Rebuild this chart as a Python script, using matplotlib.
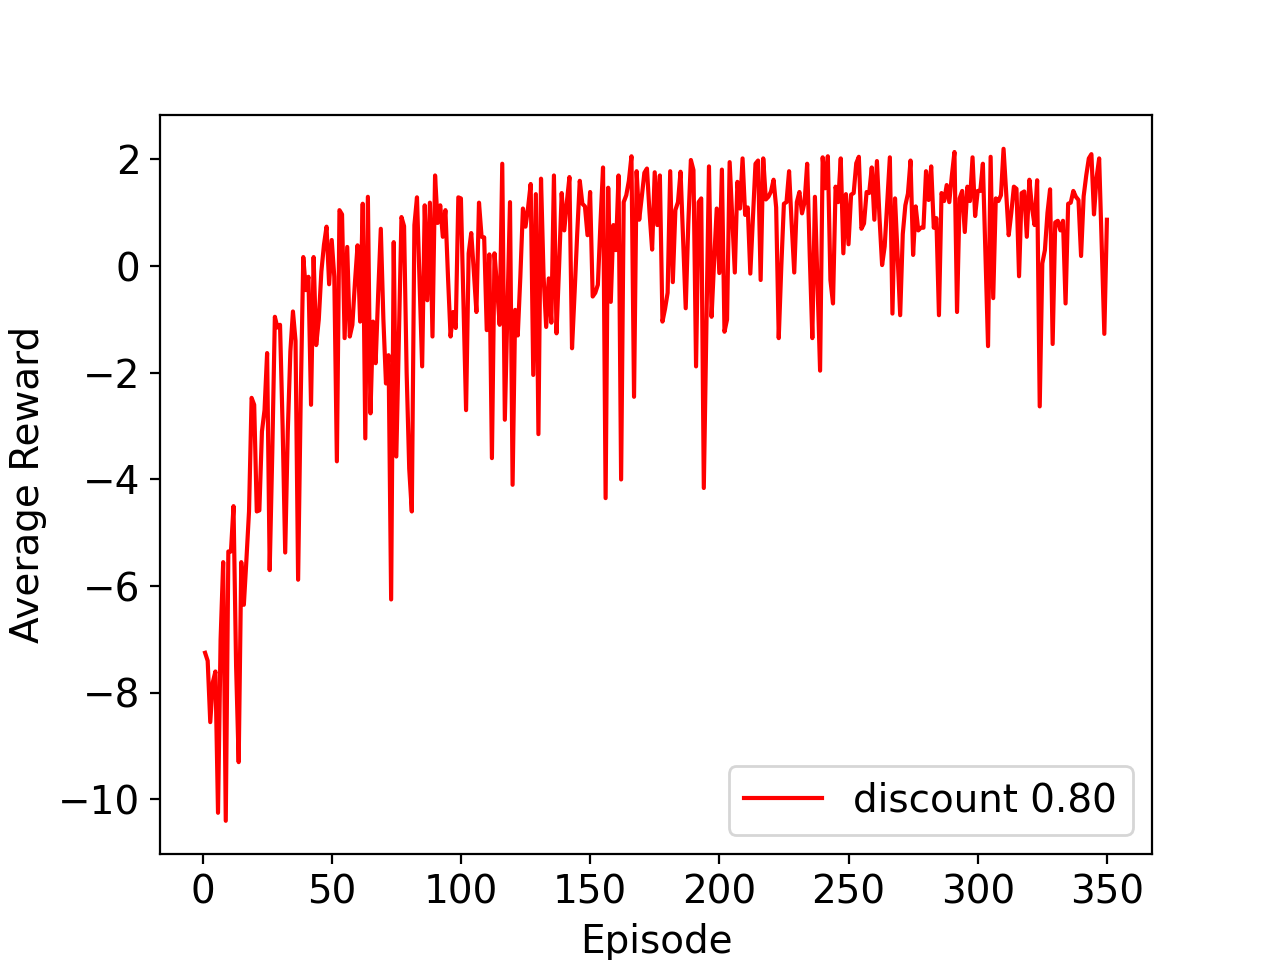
import matplotlib
matplotlib.use("Agg")
import matplotlib.pyplot as plt

plt.rcParams['font.size'] = 14

rewards = [
    -7.25, -7.4, -8.55, -7.8, -7.6, -10.25, -7.0, -5.55, -10.4,
    -5.35, -5.35, -4.5, -7.5, -9.3, -5.55, -6.35, -5.5, -4.6, -2.47,
    -2.6, -4.6, -4.58, -3.1, -2.7, -1.63, -5.7, -3.5, -0.95, -1.15,
    -1.1, -3.0, -5.37, -3.1, -1.6, -0.85, -1.4, -5.88, -2.5, 0.17,
    -0.45, -0.2, -2.6, 0.17, -1.48, -1.0, -0.1, 0.4, 0.74, -0.34,
    0.49, -0.2, -3.66, 1.05, 0.97, -1.35, 0.36, -1.32, -1.1, -0.3,
    0.39, -1.04, 1.17, -3.23, 1.3, -2.76, -1.04, -1.82, -0.5, 0.7,
    -1.0, -2.2, -1.67, -6.25, 0.45, -3.57, -1.3, 0.92, 0.75, -2.0,
    -3.8, -4.6, 0.77, 1.29, -0.3, -1.88, 1.14, -0.64, 1.19, -1.32,
    1.70, 0.81, 1.14, 0.55, 1.05, -0.2, -1.32, -0.86, -1.16, 1.29,
    1.27, -0.7, -2.7, 0.24, 0.62, -0.1, -0.86, 1.19, 0.55, 0.54,
    -1.2, 0.22, -3.6, 0.24, -0.4, -1.1, 1.92, -2.88, -0.8, 1.2,
    -4.1, -0.82, -1.3, -0.2, 1.08, 0.74, 1.1, 1.54, -2.04, 1.35,
    -3.15, 1.64, -0.2, -1.14, -0.23, -1.06, 1.7, -1.26, 0.0, 1.37,
    0.67, 1.2, 1.67, -1.54, -0.5, 0.6, 1.6, 1.17, 1.12, 0.58,
    1.39, -0.57, -0.5, -0.35, 0.8, 1.85, -4.35, 1.47, -0.67, 0.77,
    0.3, 1.7, -4.0, 1.2, 1.33, 1.6, 2.06, -2.45, 1.78, 0.87,
    1.3, 1.75, 1.83, 1.0, 0.31, 1.76, 0.77, 1.7, -1.04, -0.8,
    -0.5, 1.78, -0.3, 1.05, 1.2, 1.77, 0.5, -0.79, 0.8, 1.99,
    1.8, -1.88, 1.2, 1.27, -4.16, -1.2, 1.87, -0.95, 0.1, 1.08,
    -0.13, 1.81, -1.23, -1.0, 1.95, 0.9, -0.12, 1.58, 1.08, 2.02,
    0.96, 1.1, -0.14, 0.9, 1.92, 1.98, -0.26, 2.02, 1.25, 1.3,
    1.4, 1.62, 1.1, -1.35, 0.0, 1.17, 1.2, 1.78, 0.8, -0.12,
    1.2, 1.39, 0.99, 1.2, 1.92, 0.2, -1.35, 1.3, -0.3, -1.96,
    2.04, 1.46, 2.06, -0.26, -0.7, 1.49, 1.2, 2.02, 0.24, 1.35,
    0.41, 1.34, 1.37, 1.93, 2.05, 0.7, 0.8, 1.39, 1.37, 1.85,
    0.87, 1.97, 0.9, 0.02, 0.37, 1.2, 2.04, -0.89, 1.27, 0.2,
    -0.92, 0.6, 1.14, 1.36, 1.98, 0.21, 1.12, 0.67, 0.72, 0.72,
    1.78, 1.24, 1.87, 0.72, 0.9, -0.92, 1.37, 1.22, 1.52, 1.2,
    1.7, 2.14, -0.86, 1.27, 1.41, 0.64, 1.49, 1.22, 2.04, 0.94,
    1.41, 1.41, 1.92, 0.2, -1.5, 2.05, -0.6, 1.27, 1.22, 1.33,
    2.2, 1.4, 0.58, 1.0, 1.49, 1.45, -0.19, 1.37, 1.4, 0.55,
    1.62, 1.1, 0.77, 1.61, -2.63, 0.05, 0.3, 1.0, 1.44, -1.46,
    0.82, 0.85, 0.67, 0.85, -0.7, 1.17, 1.19, 1.41, 1.3, 1.24,
    0.19, 1.31, 1.7, 2.02, 2.1, 0.97, 1.66, 2.02, 0.4, -1.27,
    0.87,
]
episodes = list(range(1, len(rewards) + 1))
label = "discount 0.80"

fig, ax = plt.subplots(figsize=(6.4, 4.8), dpi=200)
ax.plot(episodes, rewards, color='red', linewidth=1.5, label=label)
ax.set_xlabel("Episode")
ax.set_ylabel("Average Reward")
ax.legend(loc='lower right')
fig.savefig("out.png", dpi=200)
